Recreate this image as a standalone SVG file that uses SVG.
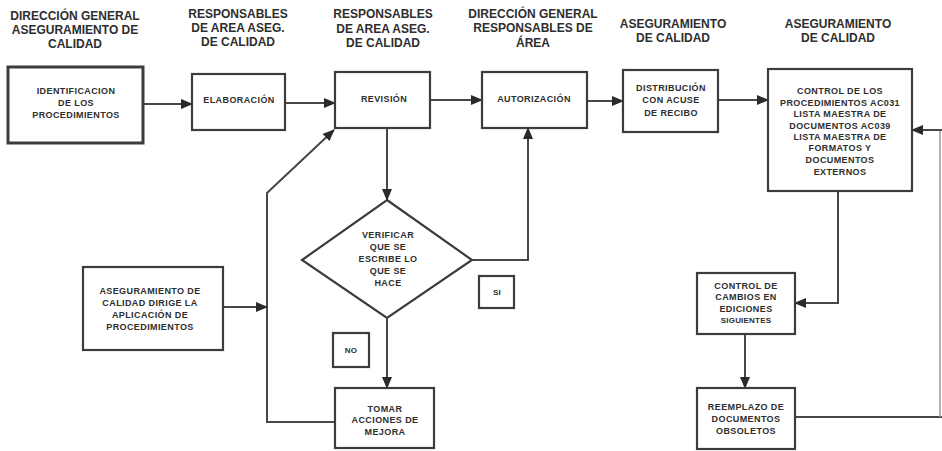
<svg xmlns="http://www.w3.org/2000/svg" width="942" height="451" viewBox="0 0 942 451">
  <defs>
    <style>
      .hdr { font-family: "Liberation Sans", Arial, sans-serif; font-weight: bold; font-size: 12px; fill: #2e2e2e; text-anchor: middle; }
      .lbl { font-family: "Liberation Sans", Arial, sans-serif; font-weight: bold; font-size: 9px; letter-spacing: 0.4px; fill: #2e2e2e; text-anchor: middle; }
      .sm { font-size: 8px; letter-spacing: 0.2px; }
      .box { fill: #ffffff; stroke: #3c3c3c; stroke-width: 2.2; }
      .thick { stroke-width: 3; }
      .link { fill: none; stroke: #474747; stroke-width: 2; }
      .faint { fill: none; stroke: #9a9a9a; stroke-width: 1.5; }
    </style>
    <marker id="arrow" viewBox="0 0 12 10" refX="11" refY="5" markerWidth="12" markerHeight="10" markerUnits="userSpaceOnUse" orient="auto">
      <path d="M0,0 L12,5 L0,10 z" fill="#2a2a2a"/>
    </marker>
  </defs>

  <rect width="942" height="451" fill="#ffffff"/>

  <!-- Column headings -->
  <g id="headings">
    <text class="hdr" x="75" y="20">DIRECCIÓN GENERAL</text>
    <text class="hdr" x="75" y="34">ASEGURAMIENTO DE</text>
    <text class="hdr" x="75" y="48">CALIDAD</text>

    <text class="hdr" x="238" y="18">RESPONSABLES</text>
    <text class="hdr" x="238" y="32">DE AREA ASEG.</text>
    <text class="hdr" x="238" y="46">DE CALIDAD</text>

    <text class="hdr" x="383" y="18">RESPONSABLES</text>
    <text class="hdr" x="383" y="33">DE AREA ASEG.</text>
    <text class="hdr" x="383" y="47">DE CALIDAD</text>

    <text class="hdr" x="533" y="18">DIRECCIÓN GENERAL</text>
    <text class="hdr" x="533" y="32">RESPONSABLES DE</text>
    <text class="hdr" x="533" y="47">ÁREA</text>

    <text class="hdr" x="673" y="28">ASEGURAMIENTO</text>
    <text class="hdr" x="673" y="42">DE CALIDAD</text>

    <text class="hdr" x="838" y="28">ASEGURAMIENTO</text>
    <text class="hdr" x="838" y="42">DE CALIDAD</text>
  </g>

  <!-- Connectors -->
  <g id="connectors">
    <path class="link" d="M143,104 H192" marker-end="url(#arrow)"/>
    <path class="link" d="M285,103 H335" marker-end="url(#arrow)"/>
    <path class="link" d="M430,100 H482" marker-end="url(#arrow)"/>
    <path class="link" d="M587,101 H623" marker-end="url(#arrow)"/>
    <path class="link" d="M718,100 H768" marker-end="url(#arrow)"/>
    <path class="link" d="M387,128 V200" marker-end="url(#arrow)"/>
    <path class="link" d="M472,260 H528 V128" marker-end="url(#arrow)"/>
    <path class="link" d="M387,318 V388" marker-end="url(#arrow)"/>
    <path class="link" d="M335,422 H267 V193 L334,130" marker-end="url(#arrow)"/>
    <path class="link" d="M223,307 H267" marker-end="url(#arrow)"/>
    <path class="link" d="M838,191 V303 H795" marker-end="url(#arrow)"/>
    <path class="link" d="M745,334 V388" marker-end="url(#arrow)"/>
    <path class="link" d="M795,417 H942"/>
    <path class="faint" d="M940,417 V130"/>
    <path class="link" d="M942,130 H912" marker-end="url(#arrow)"/>
  </g>

  <g id="identificacion">
    <rect class="box thick" x="8" y="67" width="135" height="76"/>
    <text class="lbl" x="76" y="94">IDENTIFICACION</text>
    <text class="lbl" x="76" y="106">DE LOS</text>
    <text class="lbl" x="76" y="118">PROCEDIMIENTOS</text>
  </g>

  <g id="elaboracion">
    <rect class="box" x="192" y="74" width="93" height="56"/>
    <text class="lbl" x="239" y="103">ELABORACIÓN</text>
  </g>

  <g id="revision">
    <rect class="box" x="335" y="72" width="95" height="56"/>
    <text class="lbl" x="384" y="102">REVISIÓN</text>
  </g>

  <g id="autorizacion">
    <rect class="box" x="482" y="72" width="105" height="56"/>
    <text class="lbl" x="534" y="102">AUTORIZACIÓN</text>
  </g>

  <g id="distribucion">
    <rect class="box" x="623" y="70" width="95" height="62"/>
    <text class="lbl" x="671" y="91">DISTRIBUCIÓN</text>
    <text class="lbl" x="671" y="103">CON ACUSE</text>
    <text class="lbl" x="671" y="116">DE RECIBO</text>
  </g>

  <g id="control-procedimientos">
    <rect class="box" x="768" y="69" width="144" height="122"/>
    <text class="lbl" x="840" y="94">CONTROL DE LOS</text>
    <text class="lbl" x="840" y="106">PROCEDIMIENTOS AC031</text>
    <text class="lbl" x="840" y="117">LISTA MAESTRA DE</text>
    <text class="lbl" x="840" y="129">DOCUMENTOS AC039</text>
    <text class="lbl" x="840" y="140">LISTA MAESTRA DE</text>
    <text class="lbl" x="840" y="151">FORMATOS Y</text>
    <text class="lbl" x="840" y="163">DOCUMENTOS</text>
    <text class="lbl" x="840" y="175">EXTERNOS</text>
  </g>

  <g id="dirige-aplicacion">
    <rect class="box" x="83" y="267" width="140" height="83"/>
    <text class="lbl" x="150" y="294">ASEGURAMIENTO DE</text>
    <text class="lbl" x="150" y="306">CALIDAD DIRIGE LA</text>
    <text class="lbl" x="150" y="318">APLICACIÓN DE</text>
    <text class="lbl" x="150" y="330">PROCEDIMIENTOS</text>
  </g>

  <g id="verificar">
    <polygon class="box" points="387,200 472,260 387,318 302,260"/>
    <text class="lbl" x="388" y="238">VERIFICAR</text>
    <text class="lbl" x="388" y="250">QUE SE</text>
    <text class="lbl" x="388" y="262">ESCRIBE LO</text>
    <text class="lbl" x="388" y="274">QUE SE</text>
    <text class="lbl" x="388" y="286">HACE</text>
  </g>

  <g id="si">
    <rect class="box" x="479" y="276" width="35" height="32"/>
    <text class="lbl sm" x="497" y="295">SI</text>
  </g>

  <g id="no">
    <rect class="box" x="333" y="333" width="36" height="34"/>
    <text class="lbl sm" x="351" y="353">NO</text>
  </g>

  <g id="tomar-acciones">
    <rect class="box" x="335" y="388" width="99" height="60"/>
    <text class="lbl" x="385" y="412">TOMAR</text>
    <text class="lbl" x="385" y="423">ACCIONES DE</text>
    <text class="lbl" x="385" y="435">MEJORA</text>
  </g>

  <g id="control-cambios">
    <rect class="box" x="697" y="273" width="98" height="61"/>
    <text class="lbl" x="746" y="289">CONTROL DE</text>
    <text class="lbl" x="746" y="300">CAMBIOS EN</text>
    <text class="lbl" x="746" y="312">EDICIONES</text>
    <text class="lbl sm" x="746" y="323">SIGUIENTES</text>
  </g>

  <g id="reemplazo">
    <rect class="box" x="697" y="388" width="98" height="61"/>
    <text class="lbl" x="746" y="410">REEMPLAZO DE</text>
    <text class="lbl" x="746" y="422">DOCUMENTOS</text>
    <text class="lbl" x="746" y="434">OBSOLETOS</text>
  </g>
</svg>
